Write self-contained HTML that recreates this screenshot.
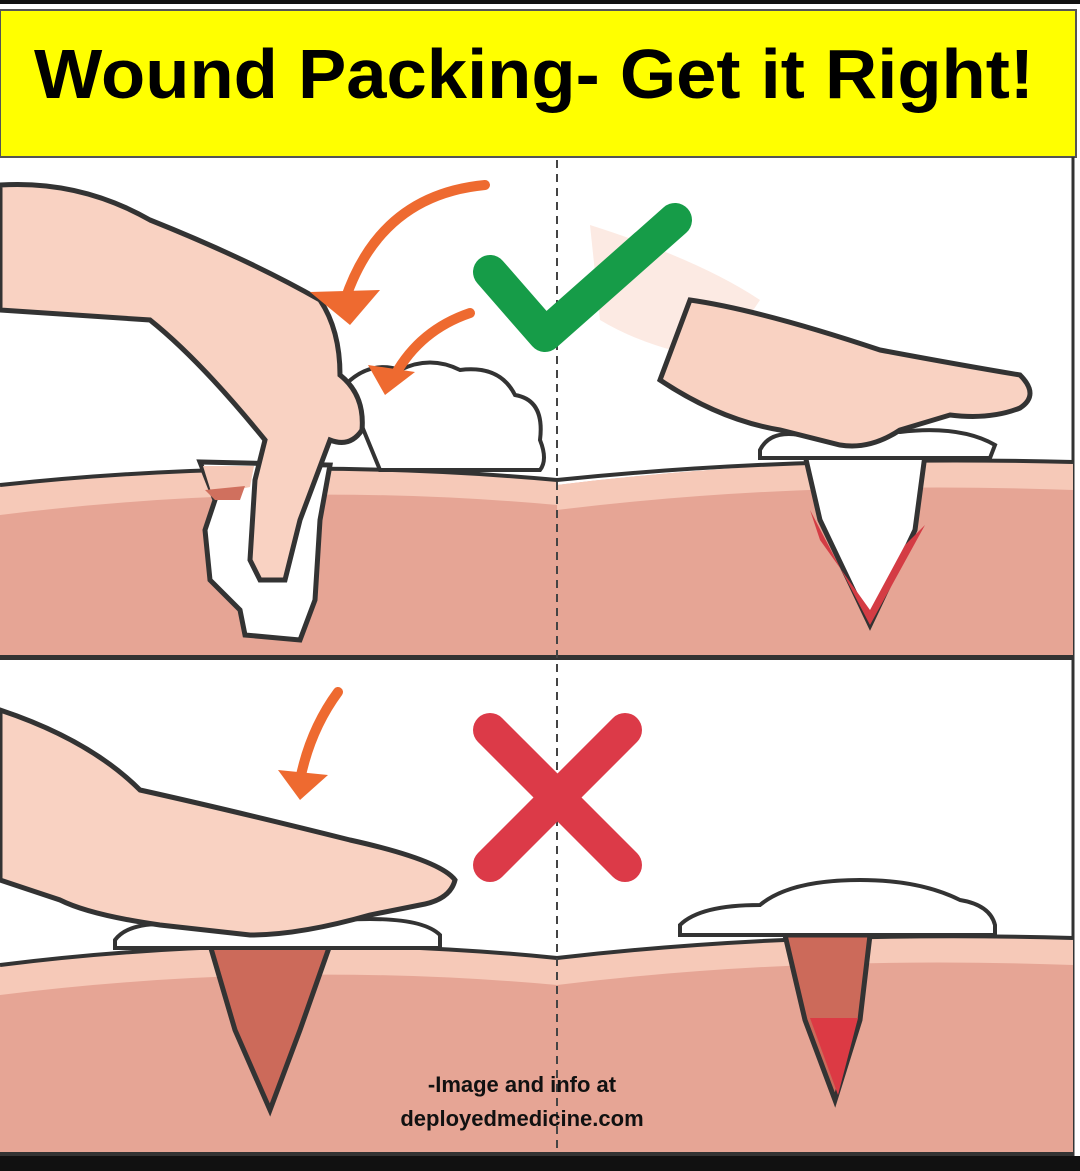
<!DOCTYPE html>
<html><head><meta charset="utf-8"><style>
html,body{margin:0;padding:0;background:#fff;}
body{width:1080px;height:1171px;position:relative;overflow:hidden;font-family:"Liberation Sans",sans-serif;}
</style></head><body>
<svg width="1080" height="1171" viewBox="0 0 1080 1171" xmlns="http://www.w3.org/2000/svg" style="position:absolute;left:0;top:0">
<rect x="0" y="0" width="1080" height="4" fill="#111"/>
<rect x="0" y="10" width="1076" height="147" fill="#ffff00" stroke="#555" stroke-width="2"/>
<text x="534" y="98" text-anchor="middle" font-family="Liberation Sans, sans-serif" font-weight="bold" font-size="70" textLength="1000" lengthAdjust="spacingAndGlyphs" fill="#000">Wound Packing- Get it Right!</text>
<rect x="0" y="1156" width="1080" height="15" fill="#111"/>
<line x1="1073" y1="157" x2="1073" y2="1156" stroke="#333" stroke-width="3"/>

<!-- top panel skin -->
<path d="M0,485 Q280,455 557,480 L557,655 L0,655Z" fill="#e6a595"/>
<path d="M0,485 Q280,455 557,480 L557,505 Q280,480 0,515Z" fill="#f6c9b8"/>
<path d="M557,485 Q800,455 1073,462 L1073,655 L557,655Z" fill="#e6a595"/>
<path d="M557,485 Q800,455 1073,462 L1073,490 Q800,480 557,510Z" fill="#f6c9b8"/>
<path d="M0,485 Q280,455 557,480 Q800,455 1073,462" fill="none" stroke="#333" stroke-width="4"/>
<rect x="0" y="655" width="1073" height="5" fill="#333"/>

<!-- cotton top left -->
<path d="M345,385 Q370,360 400,370 Q430,355 460,370 Q500,365 515,395 Q545,400 540,440 Q548,460 540,470 L380,470Z" fill="#fff" stroke="#333" stroke-width="4"/>
<!-- top-left wound with finger -->
<path d="M200,462 L215,500 L205,530 L210,580 L240,610 L245,635 L300,640 L315,600 L320,520 L330,465Z" fill="#fff" stroke="#333" stroke-width="5"/>
<path d="M203,466 L212,495 L250,487 L254,466Z" fill="#f6c9b8"/>
<path d="M205,490 L245,486 L240,500 L215,500Z" fill="#d0705e"/>
<!-- hand top-left -->
<path d="M0,185 Q80,180 150,220 Q250,260 320,300 Q340,330 340,375 Q365,395 362,430 Q350,448 330,440 L300,520 L285,580 L260,580 L250,560 L255,480 L265,440 Q200,360 150,320 Q80,315 0,310Z" fill="#f9d2c2" stroke="#333" stroke-width="5"/>

<!-- right-top wound -->
<path d="M805,455 L820,520 L870,625 L915,530 L925,455Z" fill="#fff" stroke="#333" stroke-width="5"/>
<path d="M810,510 L870,625 L925,525 L905,545 L870,610 L820,540Z" fill="#d43c44"/>
<path d="M760,450 Q770,430 800,435 Q850,425 900,432 Q960,425 995,445 L990,458 L760,458Z" fill="#fff" stroke="#333" stroke-width="4"/>
<!-- faded hand + hand top right -->
<path d="M590,225 Q700,260 760,300 L720,360 Q650,350 600,320Z" fill="#fbe5dc" opacity="0.8"/>
<path d="M690,300 Q760,310 880,350 Q960,365 1020,375 Q1040,395 1020,408 Q990,420 950,415 L900,430 Q870,450 840,445 L780,430 Q720,420 660,380 Z" fill="#f9d2c2" stroke="#333" stroke-width="5"/>

<!-- bottom panel skin -->
<path d="M0,965 Q280,930 557,958 L557,1152 L0,1152Z" fill="#e6a595"/>
<path d="M0,965 Q280,930 557,958 L557,985 Q280,960 0,995Z" fill="#f6c9b8"/>
<path d="M557,958 Q800,930 1073,938 L1073,1152 L557,1152Z" fill="#e6a595"/>
<path d="M557,958 Q800,930 1073,938 L1073,965 Q800,955 557,985Z" fill="#f6c9b8"/>
<path d="M0,965 Q280,930 557,958 Q800,930 1073,938" fill="none" stroke="#333" stroke-width="4"/>
<rect x="0" y="1152" width="1073" height="4" fill="#333"/>

<!-- bottom-left wound -->
<path d="M210,945 L235,1030 L270,1110 L300,1030 L330,945Z" fill="#cc6a5a" stroke="#333" stroke-width="5"/>
<path d="M115,940 Q130,920 180,925 Q260,915 340,920 Q420,915 440,935 L440,948 L115,948Z" fill="#fff" stroke="#333" stroke-width="4"/>
<path d="M0,710 Q90,740 140,790 Q230,810 350,840 Q440,860 455,880 Q450,900 420,905 L370,915 Q300,935 250,935 L160,925 Q90,915 60,900 L0,880Z" fill="#f9d2c2" stroke="#333" stroke-width="5"/>

<!-- bottom-right wound -->
<path d="M785,935 L805,1020 L835,1100 L860,1020 L870,935Z" fill="#cc6a5a" stroke="#333" stroke-width="5"/>
<path d="M810,1018 L858,1018 L838,1095Z" fill="#dc3a44"/>
<path d="M680,925 Q700,905 760,905 Q790,880 860,880 Q920,880 960,900 Q990,905 995,925 L995,935 L680,935Z" fill="#fff" stroke="#333" stroke-width="4"/>

<!-- dashed divider -->
<line x1="557" y1="160" x2="557" y2="1152" stroke="#444" stroke-width="2" stroke-dasharray="8,6"/>

<!-- arrows -->
<g fill="none" stroke="#ee6a30" stroke-width="10" stroke-linecap="round">
<path d="M485,185 Q380,195 345,300"/>
<path d="M470,313 Q420,330 395,375"/>
<path d="M338,692 Q310,730 300,780"/>
</g>
<path d="M310,292 L350,325 L380,290Z" fill="#ee6a30"/>
<path d="M368,365 L385,395 L415,372Z" fill="#ee6a30"/>
<path d="M278,770 L300,800 L328,775Z" fill="#ee6a30"/>

<!-- check -->
<path d="M490,272 L545,335 L675,220" fill="none" stroke="#169c48" stroke-width="34" stroke-linecap="round" stroke-linejoin="round"/>
<!-- X -->
<g stroke="#dc3a48" stroke-width="34" stroke-linecap="round">
<line x1="490" y1="730" x2="625" y2="865"/>
<line x1="625" y1="730" x2="490" y2="865"/>
</g>

<text x="522" y="1092" text-anchor="middle" font-family="Liberation Sans, sans-serif" font-weight="bold" font-size="22" fill="#111">-Image and info at</text>
<text x="522" y="1126" text-anchor="middle" font-family="Liberation Sans, sans-serif" font-weight="bold" font-size="22" fill="#111">deployedmedicine.com</text>
</svg>
</body></html>
